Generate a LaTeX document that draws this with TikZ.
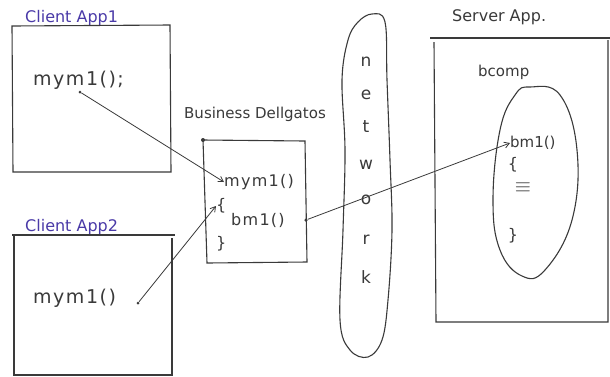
\documentclass[tikz,border=0pt]{standalone}
\usepackage{fontspec}
\setmainfont{DejaVu Sans}
\newfontfamily\wide[LetterSpace=8]{DejaVu Sans}
\usetikzlibrary{arrows.meta}
\definecolor{ink}{HTML}{3A3A3A}
\definecolor{blueink}{HTML}{4A3AA8}
\tikzset{
  pencil/.style={draw=ink, line width=1.1pt},
  hand/.style={text=ink, font=\fontsize{15}{17}\selectfont, inner sep=0pt},
  code/.style={text=ink, font=\wide\fontsize{16}{18}\selectfont, inner sep=0pt},
  bigcode/.style={code, font=\wide\fontsize{19}{21}\selectfont},
  title/.style={text=blueink, font=\fontsize{16}{18}\selectfont, inner sep=0pt},
  call/.style={draw=ink, line width=0.8pt, -{Straight Barb[length=5pt,width=6pt]}},
  dot/.style={circle, fill=ink, inner sep=0pt, minimum size=3.5pt},
}
\begin{document}
\begin{tikzpicture}[x=1pt, y=-1pt]
\useasboundingbox (0,0) rectangle (610,376);
\fill[white] (0,0) rectangle (610,376);

% client application 1
\node[title, anchor=west] (t1) at (25,18) {Client App1};
\draw[pencil] (12,26) -- (170,25) -- (171,172) -- (13,172) -- cycle;
\node[bigcode, anchor=west] (c1) at (33,80) {mym1();};
\node[dot, minimum size=3pt] (d1) at (80,92) {};

% client application 2
\node[title, anchor=west] (t2) at (25,227) {Client App2};
\draw[pencil] (12,235) -- (175,235) (14,235) -- (14,375) -- (172,375) -- (172,238);
\node[bigcode, anchor=west] (c2) at (33,298) {mym1()};
\node[dot, minimum size=3pt] (d2) at (138,303) {};

% business delegate
\node[hand, anchor=west] (tb) at (184,114) {Business Dellgatos};
\draw[pencil] (203,140) -- (305,141) -- (307,262) -- (207,263) -- cycle;
\fill[ink] (203,140) circle (2pt);
\node[code, anchor=west] (b1) at (224,182) {mym1()};
\node[code, anchor=west] (ob) at (216,206) {\{};
\node[code, anchor=west] (b2) at (231,220) {bm1()};
\node[dot] (d3) at (306,220) {};
\node[code, anchor=west] (cb) at (216,244) {\}};

% network
\draw[pencil] plot[smooth cycle, tension=0.6] coordinates {
  (372,14) (385,22) (387,80) (390,160) (392,230) (388,300) (382,340)
  (368,357) (350,350) (340,320) (343,230) (345,150) (342,80) (348,40) (358,22)};
\foreach \ch/\yy [count=\i] in {n/62,e/95,t/127,w/165,o/200,r/240,k/277}
  \node[code, font=\fontsize{17}{19}\selectfont] (net\i) at (366,\yy) {\ch};

% server application
\node[hand, anchor=west, font=\fontsize{16}{18}\selectfont] (ts) at (452,17) {Server App.};
\draw[pencil] (430,38) -- (610,38);
\draw[pencil] (434,42) -- (436,322) -- (608,322) -- (608,40);
\node[hand, anchor=west] (bc) at (478,72) {bcomp};
\draw[pencil] plot[smooth cycle, tension=0.7] coordinates {
  (530,87) (560,95) (577,150) (572,220) (545,270) (522,276) (500,250)
  (493,200) (500,130) (515,95)};
\node[code, anchor=west, font=\fontsize{15}{17}\selectfont] (s1) at (510,143) {bm1()};
\node[code] (os) at (513,165) {\{};
\node[code, font=\fontsize{22}{24}\selectfont] (eq) at (523,188) {$\equiv$};
\node[code] (cs) at (513,236) {\}};

% calls
\draw[call] (d1) -- (b1.west);
\draw[call] (d2) -- (ob.west);
\draw[call] (d3) -- (s1.west);
\end{tikzpicture}
\end{document}
